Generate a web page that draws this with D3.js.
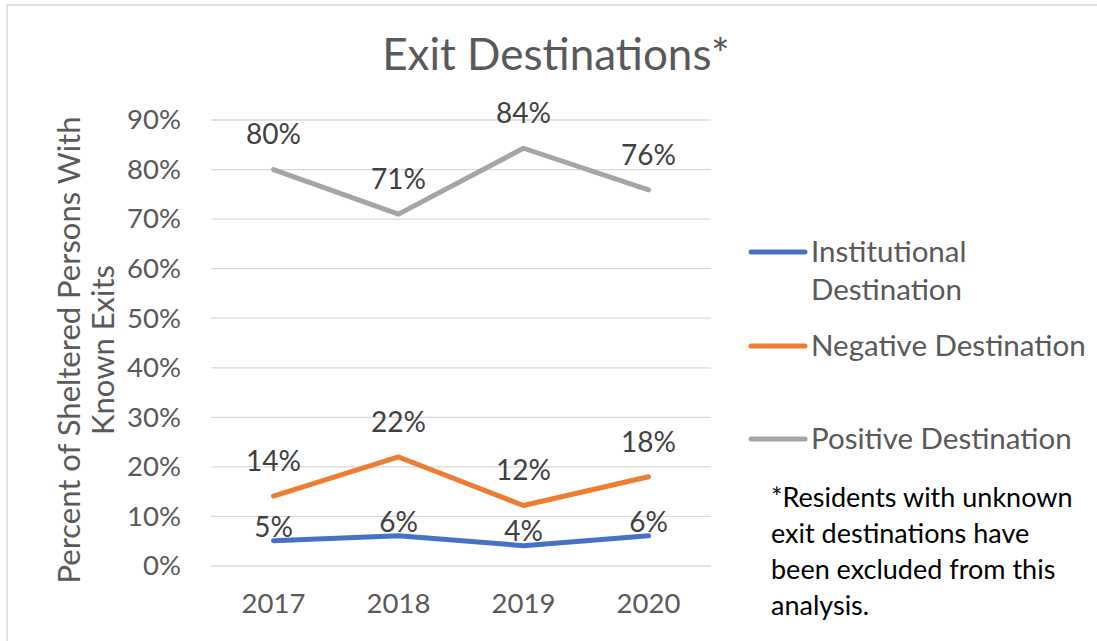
<!DOCTYPE html>
<html lang="en">
<head>
<meta charset="UTF-8">
<title>Exit Destinations</title>
<script src="https://cdn.jsdelivr.net/npm/d3@7"></script>
<style>
    body { margin: 0; background: #fff; }
    svg text { font-family: Lato, "Open Sans", sans-serif; }
    .grid line { stroke: #d9d9d9; stroke-width: 1.3; }
    .axis text { fill: #595959; font-size: 27.5px; }
    .lbl { fill: #404040; font-size: 28px; }
</style>
</head>
<body>
<script>
    var width = 1097, height = 641;

    var years = ["2017", "2018", "2019", "2020"];
    var institutional = [0.051, 0.061, 0.041, 0.061];
    var negative = [0.141, 0.22, 0.122, 0.18];
    var positive = [0.80, 0.71, 0.843, 0.759];
    var yTicks = [0, 0.1, 0.2, 0.3, 0.4, 0.5, 0.6, 0.7, 0.8, 0.9];
    var seriesNames = ["Institutional Destination", "Negative Destination", "Positive Destination"];
    var seriesColors = ["#4472c4", "#ed7d31", "#a5a5a5"];
    var noteLines = ["*Residents with unknown", "exit destinations have", "been excluded from this", "analysis."];

    var series = [institutional, negative, positive];
    // how far the data labels sit above their points
    var labelLift = [14, 35, 35];

    var svg = d3.select("body").append("svg").attr("width", width).attr("height", height);

    // chart frame, runs off the right and bottom edge like the screenshot
    svg.append("rect").attr("x", 7).attr("y", 5).attr("width", 1200).attr("height", 800)
        .attr("fill", "#fff").attr("stroke", "#d9d9d9").attr("stroke-width", 1.5);

    var x = d3.scaleBand().domain(years).range([211, 711]);
    var y = d3.scaleLinear().domain([0, 0.9]).range([566, 120]);

    svg.append("text").attr("x", 556).attr("y", 70).attr("text-anchor", "middle")
        .attr("fill", "#595959").style("font-size", "44px").text("Exit Destinations*");

    // gridlines
    svg.append("g").attr("class", "grid")
        .selectAll("line").data(yTicks).enter().append("line")
        .attr("x1", 211).attr("x2", 711)
        .attr("y1", function(d){ return y(d); }).attr("y2", function(d){ return y(d); });

    var yAxis = svg.append("g").attr("class", "axis").attr("transform", "translate(211,0)")
        .call(d3.axisLeft(y).tickValues(yTicks).tickFormat(d3.format(".0%")).tickSize(0).tickPadding(30));
    yAxis.select(".domain").remove();

    var xAxis = svg.append("g").attr("class", "axis").attr("transform", "translate(0,566)")
        .call(d3.axisBottom(x).tickSize(0).tickPadding(27));
    xAxis.select(".domain").remove();

    // y axis title, two lines
    var yt = svg.append("text").attr("transform", "translate(80,350) rotate(-90)")
        .attr("text-anchor", "middle").attr("fill", "#595959").style("font-size", "31px");
    yt.append("tspan").attr("x", 0).attr("y", 0).text("Percent of Sheltered Persons With");
    yt.append("tspan").attr("x", 0).attr("y", 34).text("Known Exits");

    var line = d3.line()
        .x(function(d, i){ return x(years[i]) + x.bandwidth() / 2; })
        .y(function(d){ return y(d); });

    svg.append("g").selectAll("path").data(series).enter().append("path")
        .attr("d", line)
        .attr("fill", "none")
        .attr("stroke", function(d, i){ return seriesColors[i]; })
        .attr("stroke-width", 5)
        .attr("stroke-linecap", "round")
        .attr("stroke-linejoin", "round");

    series.forEach(function(vals, s) {
        svg.append("g").selectAll("text").data(vals).enter().append("text")
            .attr("class", "lbl")
            .attr("text-anchor", "middle")
            .attr("x", function(d, i){ return x(years[i]) + x.bandwidth() / 2; })
            .attr("y", function(d){ return y(d) - labelLift[s]; })
            .attr("dy", "0.35em")
            .text(function(d){ return d3.format(".0%")(d); });
    });

    // legend
    var legendY = [252, 346, 439];
    var lg = svg.append("g").selectAll("g").data(seriesNames).enter().append("g")
        .attr("transform", function(d, i){ return "translate(751," + legendY[i] + ")"; });
    lg.append("line").attr("x1", 0).attr("x2", 54)
        .attr("stroke", function(d, i){ return seriesColors[i]; })
        .attr("stroke-width", 5).attr("stroke-linecap", "round");
    var lt = lg.append("text").attr("x", 60).attr("fill", "#595959").style("font-size", "29.5px");
    lt.each(function(d, i) {
        var t = d3.select(this);
        var parts = i === 0 ? ["Institutional", "Destination"] : [d];
        parts.forEach(function(p, k) {
            t.append("tspan").attr("x", 60).attr("y", k * 38).attr("dy", "0.35em").text(p);
        });
    });

    // footnote
    svg.append("g").selectAll("text").data(noteLines).enter().append("text")
        .attr("x", 771).attr("y", function(d, i){ return 498 + i * 35.7; })
        .attr("dy", "0.35em").attr("fill", "#000").style("font-size", "27px")
        .text(function(d){ return d; });
</script>
</body>
</html>
